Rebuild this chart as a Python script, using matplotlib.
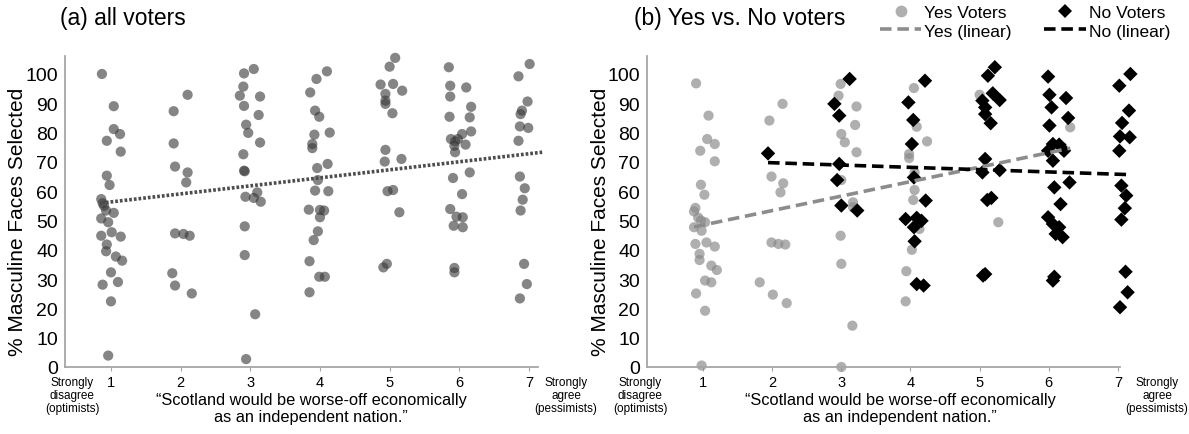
import numpy as np
import matplotlib
matplotlib.use('Agg')
import matplotlib.pyplot as plt
from matplotlib.lines import Line2D

plt.rcParams['font.family'] = ['Liberation Sans', 'DejaVu Sans']

#DATA: PANEL (a) ALL VOTERS (jittered agreement score, % masculine faces)
all_x = [0.87, 1.04, 1.04, 1.13, 0.94, 1.14, 0.94, 0.98, 0.86, 0.88, 0.90, 0.93, 1.04, 0.86, 0.96,
         1.01, 0.86, 1.14, 0.94, 0.93, 1.07, 1.16, 1.00, 0.88, 1.10, 1.00, 0.96,
         1.90, 1.90, 1.92, 2.10, 2.10, 2.08, 1.92, 2.04, 2.13, 1.88, 1.92, 2.16,
         2.91, 3.05, 2.90, 2.85, 3.14, 2.91, 3.12, 2.94, 2.97, 3.14, 2.90, 2.91, 2.92, 2.93,
         3.10, 3.05, 3.15, 2.92, 2.92, 3.07, 2.94,
         4.10, 3.95, 3.86, 3.93, 3.99, 4.14, 3.92, 3.89, 3.89, 4.11, 3.96, 3.97, 3.93, 4.12,
         3.84, 4.00, 4.00, 4.06, 3.97, 3.91, 3.85, 3.99, 4.07, 3.85,
         5.08, 5.00, 4.87, 5.05, 5.18, 4.94, 4.94, 4.94, 5.04, 4.94, 4.93, 5.17, 4.97, 5.05,
         5.14, 4.91, 4.96,
         5.85, 5.87, 6.10, 5.87, 6.17, 6.15, 5.86, 6.17, 6.04, 5.88, 5.94, 5.98, 5.93, 5.94,
         6.09, 5.91, 6.15, 6.04, 5.87, 5.96, 6.05, 6.05, 5.92, 5.93, 5.93,
         7.01, 6.85, 6.98, 6.90, 6.88, 6.87, 6.99, 6.85, 6.87, 6.94, 6.91, 6.88, 6.93, 6.97, 6.87]
all_y = [100.0, 89.0, 81.2, 79.5, 77.2, 73.5, 65.3, 62.1, 57.3, 55.9, 55.0, 53.4, 52.6, 50.7, 49.4,
         46.0, 44.8, 44.5, 41.8, 39.5, 37.7, 36.3, 32.3, 28.1, 29.0, 22.4, 3.9,
         87.3, 76.3, 68.4, 92.9, 66.4, 63.0, 45.6, 45.4, 44.8, 32.0, 27.8, 25.1,
         100.2, 101.7, 95.7, 92.6, 92.3, 89.1, 86.0, 82.7, 79.9, 76.6, 72.6, 67.0, 66.8, 58.1,
         59.6, 57.7, 56.4, 48.0, 38.2, 18.0, 2.7,
         100.9, 98.3, 93.7, 87.5, 85.4, 80.0, 79.3, 76.1, 74.7, 69.3, 67.9, 63.8, 60.2, 60.0,
         53.7, 53.6, 51.1, 53.4, 46.3, 43.3, 36.1, 30.8, 30.8, 25.5,
         105.5, 102.5, 96.4, 96.6, 94.3, 93.2, 90.9, 89.8, 86.6, 74.1, 70.1, 71.0, 60.0, 60.4,
         52.8, 34.0, 35.2,
         102.3, 96.0, 95.4, 92.3, 88.8, 85.2, 85.4, 80.4, 79.5, 77.8, 77.0, 77.8, 75.5, 73.3,
         75.9, 64.5, 66.4, 59.0, 53.9, 51.3, 51.1, 47.7, 48.2, 33.8, 32.3,
         103.4, 99.2, 90.6, 87.5, 86.3, 82.1, 81.6, 77.2, 65.0, 61.0, 57.1, 53.4, 35.2, 28.3, 23.4]

#trendline (slope, intercept), drawn slightly forward like excel
all_trend = [2.74, 53.6]
all_trend_forward = 0.18

#DATA: PANEL (b) YES VOTERS
yes_x = [0.90, 1.08, 1.06, 1.17, 0.96, 1.17, 0.97, 1.02, 0.89, 0.87, 0.93, 1.03, 0.97, 0.87,
         0.98, 0.89, 1.05, 1.17, 0.95, 0.95, 1.12, 1.20, 1.03, 1.12, 0.90, 1.03, 0.98,
         2.15, 1.96, 1.99, 2.16, 2.12, 1.99, 2.09, 2.19, 1.82, 2.01, 2.21,
         2.99, 2.96, 3.22, 3.20, 3.00, 3.05, 3.22, 3.00, 3.17, 3.17, 2.99, 3.00, 3.16, 3.00,
         4.05, 4.09, 4.24, 3.98, 3.98, 4.06, 4.06, 4.04, 4.13, 4.02, 3.94, 3.93,
         5.00, 5.27,
         6.31, 6.20]
yes_y = [96.8, 85.8, 77.8, 76.1, 73.8, 70.2, 62.2, 58.8, 54.3, 53.1, 51.0, 49.4, 50.0, 47.7,
         46.5, 42.0, 42.5, 41.1, 38.6, 36.5, 34.6, 33.1, 29.5, 28.9, 25.1, 19.2, 0.5,
         89.8, 84.1, 65.0, 62.7, 59.6, 42.5, 42.0, 41.8, 28.9, 24.7, 21.8,
         96.6, 92.6, 88.9, 82.6, 79.5, 76.7, 73.3, 63.8, 56.2, 54.5, 44.8, 35.2, 14.1, 0.0,
         95.2, 82.0, 77.0, 72.7, 71.3, 66.4, 60.4, 57.0, 47.1, 40.0, 32.7, 22.4,
         92.9, 49.4,
         81.8, 75.0]

#DATA: PANEL (b) NO VOTERS
no_x = [1.94,
        3.12, 2.90, 2.97, 2.97, 2.94, 3.00, 3.23,
        4.21, 3.97, 4.04, 4.02, 4.05, 4.22, 3.93, 4.09, 4.16, 4.05, 4.06, 4.09, 4.19,
        5.22, 5.12, 5.19, 5.29, 5.04, 5.08, 5.08, 5.16, 5.08, 5.04, 5.29, 5.11, 5.17, 5.05, 5.08,
        5.99, 6.01, 6.25, 6.04, 6.28, 6.01, 6.06, 6.15, 6.22, 5.99, 6.06, 6.30, 6.08, 6.17,
        5.99, 6.06, 6.15, 6.20, 6.10, 6.06, 6.08,
        7.18, 7.02, 7.16, 7.06, 7.03, 7.17, 7.02, 7.05, 7.12, 7.10, 7.05, 7.11, 7.14, 7.03]
no_y = [72.9,
        98.3, 89.8, 85.8, 69.3, 63.8, 55.1, 53.4,
        97.7, 90.3, 84.3, 76.1, 64.7, 56.8, 50.5, 50.9, 49.9, 47.7, 42.9, 28.3, 27.8,
        102.3, 99.4, 93.4, 91.1, 90.9, 88.6, 86.3, 83.2, 71.0, 66.4, 67.2, 57.0, 57.7, 31.2, 31.7,
        99.1, 92.9, 91.8, 88.6, 85.0, 82.4, 76.1, 75.9, 73.8, 73.8, 70.4, 63.0, 61.3, 55.6,
        51.1, 48.8, 47.7, 44.3, 45.4, 29.5, 30.8,
        100.0, 96.0, 87.5, 83.3, 78.7, 78.4, 73.8, 61.9, 58.5, 54.2, 50.3, 32.5, 25.5, 20.4]

xtick_vals = [1, 2, 3, 4, 5, 6, 7]
ytick_vals = list(range(0, 101, 10))


#LINEAR TREND (like excel trendline)
def trend(x, y, coef=None, forward=0.0):
    x = np.asarray(x)
    if coef is None:
        coef = np.polyfit(x, np.asarray(y), 1)
    m, c = coef
    xs = np.array([x.min(), x.max() + forward])
    return xs, m * xs + c


def px(x, y):
    # figure pixel coords -> figure fraction
    return x / 1189, 1 - y / 435


def style_axis(ax, xlim):
    ax.set_xlim(*xlim)
    ax.set_ylim(0, 106)
    for s in ['top', 'right']:
        ax.spines[s].set_visible(False)
    for s in ['left', 'bottom']:
        ax.spines[s].set_color('#a6a6a6')
        ax.spines[s].set_linewidth(1.3)
    ax.set_yticks(ytick_vals)
    ax.set_xticks(xtick_vals)
    ax.tick_params(axis='y', length=0, labelsize=14, pad=5)
    ax.tick_params(axis='x', length=3, color='#a6a6a6', labelsize=10.5, pad=3)


fig = plt.figure(figsize=(11.89, 4.35), dpi=100)

#PANEL (a)
ax1 = fig.add_axes([65 / 1189, 67 / 435, 473 / 1189, 310.6 / 435])
style_axis(ax1, (0.34, 7.13))
ax1.scatter(all_x, all_y, s=54, color='#3a3a3a', alpha=0.62, edgecolors='none', clip_on=False, zorder=2)
tx, ty = trend(all_x, all_y, coef=all_trend, forward=all_trend_forward)
ax1.plot(tx, ty, color='#4d4d4d', lw=2.6, linestyle=(0, (0.75, 0.55)), dash_capstyle='butt', zorder=3, clip_on=False)

#PANEL (b)
ax2 = fig.add_axes([647 / 1189, 67 / 435, 473 / 1189, 310.6 / 435])
style_axis(ax2, (0.19, 7.03))
ax2.scatter(yes_x, yes_y, s=54, color='#8a8a8a', alpha=0.68, edgecolors='none', clip_on=False, zorder=2)
ax2.scatter(no_x, no_y, s=54, marker='D', color='black', edgecolors='none', clip_on=False, zorder=3)
tx, ty = trend(yes_x, yes_y)
ax2.plot(tx, ty, color='#8c8c8c', lw=2.6, linestyle=(0, (3.2, 1.6)), zorder=4)
tx, ty = trend(no_x, no_y)
ax2.plot(tx, ty, color='black', lw=2.6, linestyle=(0, (3.2, 1.6)), zorder=4, clip_on=False)

#TITLES
fig.text(*px(60, 18), '(a) all voters', fontsize=16.5, va='center', ha='left')
fig.text(*px(634, 18), '(b) Yes vs. No voters', fontsize=16.5, va='center', ha='left')

#AXIS TEXT
xlab = u'\u201cScotland would be worse-off economically\nas an independent nation.\u201d'
for ylab_x, dis_x, agr_x, xl_x in [(18, 72, 566, 311), (601, 640, 1157, 900)]:
    fig.text(*px(ylab_x, 222), '% Masculine Faces Selected', rotation=90, fontsize=15,
             ha='center', va='center')
    fig.text(*px(dis_x, 396), 'Strongly\ndisagree\n(optimists)', fontsize=8.5, ha='center',
             va='center', linespacing=1.08)
    fig.text(*px(agr_x, 396), 'Strongly\nagree\n(pessimists)', fontsize=8.5, ha='center',
             va='center', linespacing=1.08)
    fig.text(*px(xl_x, 409), xlab, fontsize=11.8, ha='center', va='center', linespacing=1.12)

#LEGEND
handles = [
    Line2D([], [], marker='o', linestyle='none', markersize=8.5, color='#8a8a8a', alpha=0.68, markeredgewidth=0),
    Line2D([], [], color='#8c8c8c', lw=2.6, linestyle=(0, (3.2, 1.6))),
    Line2D([], [], marker='D', linestyle='none', markersize=7.5, color='black', markeredgewidth=0),
    Line2D([], [], color='black', lw=2.6, linestyle=(0, (3.2, 1.6))),
]
labels = ['Yes Voters', 'Yes (linear)', 'No Voters', 'No (linear)']
fig.legend(handles, labels, ncol=2, loc='upper left', bbox_to_anchor=px(878, 4), frameon=False,
           fontsize=12.5, handlelength=2.4, handletextpad=0.15, columnspacing=1.9,
           labelspacing=0.2, borderaxespad=0.0, borderpad=0.1)

fig.savefig('out.png', dpi=100)
